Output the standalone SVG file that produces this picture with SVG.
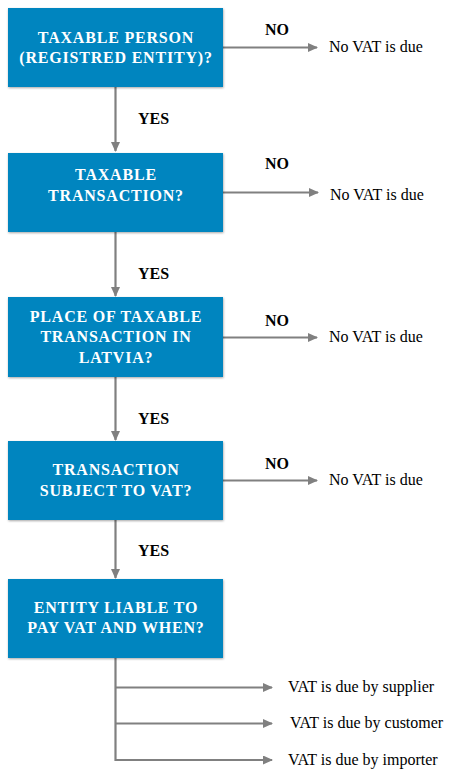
<svg xmlns="http://www.w3.org/2000/svg" width="454" height="777" viewBox="0 0 454 777" font-family="Liberation Serif, Times New Roman, DejaVu Serif, serif">
<style>
.box{fill:#0085bf;filter:url(#sh)}
.bt{font-weight:bold;font-size:16px;fill:#fff;text-anchor:middle;letter-spacing:0.8px}
.lb{font-weight:bold;font-size:16px;fill:#000}
.rt{font-size:16px;fill:#000}
.ln{stroke:#808080;stroke-width:2.2;fill:none}
</style>
<defs>
<filter id="sh" x="-10%" y="-10%" width="120%" height="130%">
<feDropShadow dx="0.5" dy="1" stdDeviation="1.2" flood-color="#000" flood-opacity="0.35"/>
</filter>
<marker id="ar" markerWidth="10" markerHeight="9" refX="9" refY="4.5" orient="auto" markerUnits="userSpaceOnUse">
<path d="M0,0 L10,4.5 L0,9 Z" fill="#808080"/>
</marker>
</defs>
<g id="connectors">
<path class="ln" d="M115.5,87 V151" marker-end="url(#ar)"/>
<path class="ln" d="M115.5,232 V296" marker-end="url(#ar)"/>
<path class="ln" d="M115.5,377 V440" marker-end="url(#ar)"/>
<path class="ln" d="M115.5,520 V578" marker-end="url(#ar)"/>
<path class="ln" d="M223,47.5 H317" marker-end="url(#ar)"/>
<path class="ln" d="M223,192.5 H318" marker-end="url(#ar)"/>
<path class="ln" d="M223,337.5 H317" marker-end="url(#ar)"/>
<path class="ln" d="M223,480.5 H317" marker-end="url(#ar)"/>
<path class="ln" d="M115.5,658 V760 H272" marker-end="url(#ar)"/>
<path class="ln" d="M115.5,687.5 H272" marker-end="url(#ar)"/>
<path class="ln" d="M115.5,723.5 H272" marker-end="url(#ar)"/>
<text class="lb" x="265" y="35">NO</text>
<text class="lb" x="265" y="169">NO</text>
<text class="lb" x="265" y="326">NO</text>
<text class="lb" x="265" y="469">NO</text>
<text class="lb" x="138" y="124">YES</text>
<text class="lb" x="138" y="279">YES</text>
<text class="lb" x="138" y="424">YES</text>
<text class="lb" x="138" y="556">YES</text>
</g>
<g id="n1">
<rect class="box" x="8" y="8" width="215" height="79"/>
<text class="bt" x="116" y="43">TAXABLE PERSON</text>
<text class="bt" x="116" y="63">(REGISTRED ENTITY)?</text>
</g>
<g id="n2">
<rect class="box" x="8" y="153" width="215" height="79"/>
<text class="bt" x="116" y="180">TAXABLE</text>
<text class="bt" x="116" y="201">TRANSACTION?</text>
</g>
<g id="n3">
<rect class="box" x="8" y="297" width="215" height="80"/>
<text class="bt" x="116" y="322">PLACE OF TAXABLE</text>
<text class="bt" x="116" y="342">TRANSACTION IN</text>
<text class="bt" x="116" y="363">LATVIA?</text>
</g>
<g id="n4">
<rect class="box" x="8" y="441" width="215" height="79"/>
<text class="bt" x="116" y="475">TRANSACTION</text>
<text class="bt" x="116" y="496">SUBJECT TO VAT?</text>
</g>
<g id="n5">
<rect class="box" x="8" y="579" width="215" height="79"/>
<text class="bt" x="116" y="613">ENTITY LIABLE TO</text>
<text class="bt" x="116" y="633">PAY VAT AND WHEN?</text>
</g>
<g id="r1"><text class="rt" x="329" y="52">No VAT is due</text></g>
<g id="r2"><text class="rt" x="330" y="200">No VAT is due</text></g>
<g id="r3"><text class="rt" x="329" y="342">No VAT is due</text></g>
<g id="r4"><text class="rt" x="329" y="485">No VAT is due</text></g>
<g id="r5"><text class="rt" x="288" y="692">VAT is due by supplier</text></g>
<g id="r6"><text class="rt" x="290" y="728">VAT is due by customer</text></g>
<g id="r7"><text class="rt" x="288" y="765">VAT is due by importer</text></g>
</svg>
